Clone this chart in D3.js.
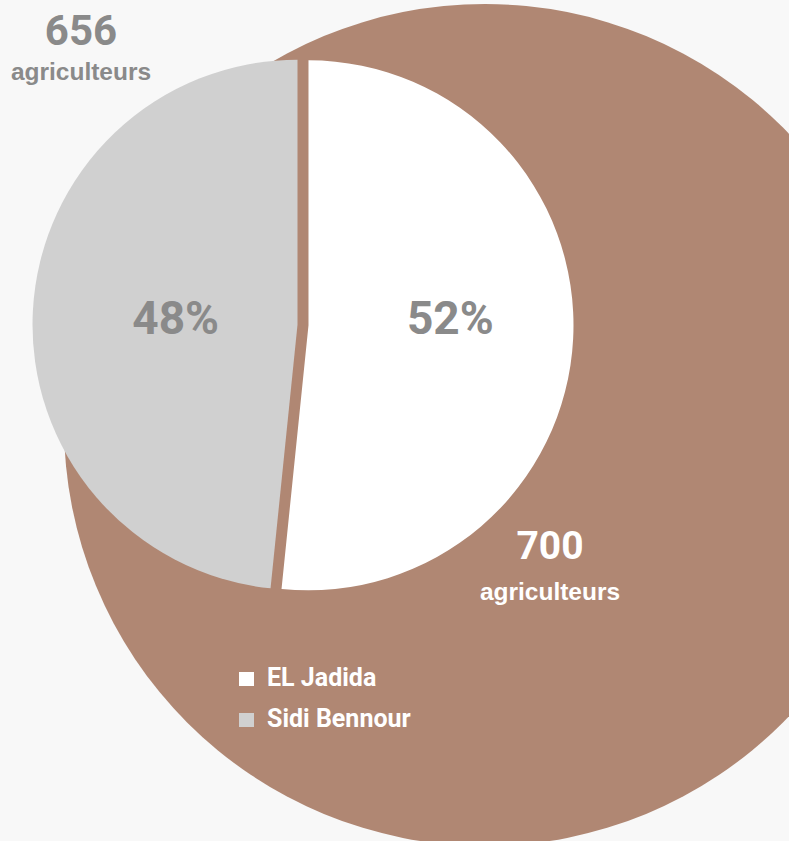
<!DOCTYPE html>
<html>
<head>
<meta charset="utf-8">
<script src="https://cdn.jsdelivr.net/npm/d3@7"></script>
<style>
  html, body { margin: 0; padding: 0; background: #f8f8f8; }
  svg { display: block; }
</style>
</head>
<body>
<svg id="chart" width="789" height="841"></svg>
<script>
// Farmers per province
const provinces = ["EL Jadida", "Sidi Bennour"];
const farmers = [700, 656];
const unitLabel = "agriculteurs";
const sliceColors = ["#ffffff", "#d0d0d0"];

const W = 789, H = 841;
const brown = "#b08773";
const textGray = "#8a8a8a";

const svg = d3.select("#chart");

// backdrop
svg.append("rect").attr("width", W).attr("height", H).attr("fill", "#f8f8f8");

// large brown disc behind the pie
const disc = { cx: 485, cy: 425, r: 421 };
svg.append("circle")
  .attr("cx", disc.cx).attr("cy", disc.cy).attr("r", disc.r)
  .attr("fill", brown);

// pie
const pieC = { x: 303, y: 325 };
const radius = 265;
const explode = 5.5;

const total = d3.sum(farmers);
const pct = d3.format(".0%");
const color = d3.scaleOrdinal().domain(provinces).range(sliceColors);

const pie = d3.pie().sort(null).value(d => d.value);
const arcs = pie(provinces.map((p, i) => ({ name: p, value: farmers[i] })));
const arc = d3.arc().innerRadius(0).outerRadius(radius);

const g = svg.append("g").attr("transform", `translate(${pieC.x},${pieC.y})`);

g.selectAll("path.slice")
  .data(arcs)
  .join("path")
  .attr("class", "slice")
  .attr("fill", d => color(d.data.name))
  .attr("transform", d => {
    const a = (d.startAngle + d.endAngle) / 2;
    return `translate(${Math.sin(a) * explode},${-Math.cos(a) * explode})`;
  })
  .attr("d", arc);

// percentage labels inside slices
const labelRadius = [142, 122];
g.selectAll("text.pct")
  .data(arcs)
  .join("text")
  .attr("class", "pct")
  .attr("x", (d, i) => Math.sin((d.startAngle + d.endAngle) / 2) * (labelRadius[i] + explode))
  .attr("y", 8.5)
  .attr("text-anchor", "middle")
  .attr("fill", textGray)
  .attr("font-family", "Roboto, 'Noto Sans', sans-serif")
  .attr("font-weight", 700)
  .attr("font-size", 46)
  .text(d => pct(d.data.value / total));

// totals
function totalLabel(x, y, value, fill, numSize, gap) {
  svg.append("text")
    .attr("x", x).attr("y", y)
    .attr("text-anchor", "middle")
    .attr("fill", fill)
    .attr("font-family", "Roboto, 'Noto Sans', sans-serif")
    .attr("font-weight", 700)
    .attr("font-size", numSize)
    .text(value);
  svg.append("text")
    .attr("x", x).attr("y", y + gap)
    .attr("text-anchor", "middle")
    .attr("fill", fill)
    .attr("font-family", "'Liberation Sans', Arial, sans-serif")
    .attr("font-weight", 700)
    .attr("font-size", 24.5)
    .text(unitLabel);
}
totalLabel(81, 45, farmers[1], textGray, 42, 35);
totalLabel(550, 559, farmers[0], "#ffffff", 39, 41);

// legend
const legend = svg.append("g").attr("transform", "translate(239,672)");
const rows = legend.selectAll("g.row")
  .data(provinces)
  .join("g")
  .attr("class", "row")
  .attr("transform", (d, i) => `translate(0,${i * 41})`);
rows.append("rect")
  .attr("width", 15).attr("height", 14)
  .attr("fill", d => color(d));
rows.append("text")
  .attr("x", 28).attr("y", 13.5)
  .attr("fill", "#ffffff")
  .attr("font-family", "Roboto, 'Noto Sans', sans-serif")
  .attr("font-weight", 700)
  .attr("font-size", 25)
  .text(d => d);
</script>
</body>
</html>
